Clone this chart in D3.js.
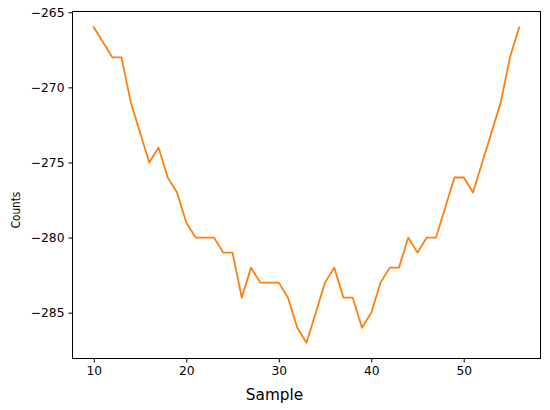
<!DOCTYPE html>
<html><head><meta charset="utf-8">
<script src="https://cdn.jsdelivr.net/npm/d3@7"></script>
<style>body{margin:0;background:#fff;} svg{display:block;font-family:"DejaVu Sans",sans-serif;}</style>
</head><body>
<svg id="c" width="550" height="410"></svg>
<script>
const samples = [10,11,12,13,14,15,16,17,18,19,20,21,22,23,24,25,26,27,28,29,30,31,32,33,34,35,36,37,38,39,40,41,42,43,44,45,46,47,48,49,50,51,52,53,54,55,56];
const counts = [-266,-267,-268,-268,-271,-273,-275,-274,-276,-277,-279,-280,-280,-280,-281,-281,-284,-282,-283,-283,-283,-284,-286,-287,-285,-283,-282,-284,-284,-286,-285,-283,-282,-282,-280,-281,-280,-280,-278,-276,-276,-277,-275,-273,-271,-268,-266];
const xTicks = [10,20,30,40,50];
const yTicks = [-265,-270,-275,-280,-285];
const xLabel = "Sample", yLabel = "Counts";

const svg = d3.select("#c");
const L = 72.5, R = 540.5, T = 11.5, B = 358.5;
const xMin = d3.min(samples), xMax = d3.max(samples);
const yMin = d3.min(counts), yMax = d3.max(counts);
const xm = (xMax - xMin) * 0.05, ym = (yMax - yMin) * 0.05;
const x = d3.scaleLinear().domain([xMin - xm, xMax + xm]).range([L, R]);
const y = d3.scaleLinear().domain([yMin - ym, yMax + ym]).range([B, T]);

const line = d3.line().x((d, i) => x(samples[i])).y(d => y(d));
svg.append("path").datum(counts).attr("d", line)
  .attr("fill", "none").attr("stroke", "#ff7f0e").attr("stroke-width", 1.8)
  .attr("stroke-linejoin", "round").attr("stroke-linecap", "square");

const fmt = d => (d < 0 ? "\u2212" + Math.abs(d) : "" + d);
const xa = svg.append("g").attr("transform", `translate(0,${B})`)
  .call(d3.axisBottom(x).tickValues(xTicks).tickSize(4).tickPadding(4).tickFormat(fmt));
const ya = svg.append("g").attr("transform", `translate(${L},0)`)
  .call(d3.axisLeft(y).tickValues(yTicks).tickSize(4).tickPadding(4).tickFormat(fmt));
[xa, ya].forEach(a => {
  a.select(".domain").remove();
  a.selectAll("line").attr("stroke", "#000").attr("stroke-width", 1);
  a.selectAll("text").attr("fill", "#000").attr("font-size", 12.3).attr("font-family", "DejaVu Sans");
});

svg.append("rect").attr("x", L).attr("y", T).attr("width", R - L).attr("height", B - T)
  .attr("fill", "none").attr("stroke", "#000").attr("stroke-width", 1);

svg.append("text").attr("x", 274.5).attr("y", 400).attr("text-anchor", "middle")
  .attr("font-size", 15.3).attr("fill", "#000").text(xLabel);
svg.append("text").attr("transform", "translate(19.5,210) rotate(-90)").attr("text-anchor", "middle")
  .attr("font-size", 12.3).attr("textLength", 36.5).attr("lengthAdjust", "spacingAndGlyphs")
  .attr("fill", "#000").text(yLabel);
</script>
</body></html>
